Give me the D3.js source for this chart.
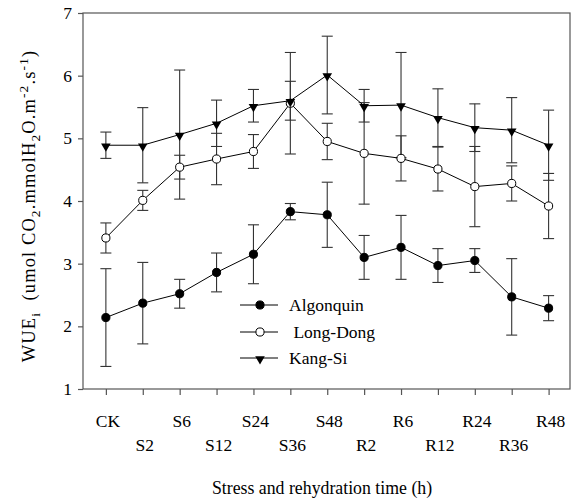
<!DOCTYPE html>
<html lang="en">
<head>
    <meta charset="UTF-8">
    <title>WUEi</title>
    <script src="https://cdn.jsdelivr.net/npm/d3@7/dist/d3.min.js"></script>
    <style>
        body { margin: 0; background: white; }
        svg text { font-family: "Liberation Serif", "Times New Roman", serif; fill: black; }
    </style>
</head>
<body>
<svg id="chart" width="572" height="502"></svg>
<script>
    // data
    var labels = ["CK", "S2", "S6", "S12", "S24", "S36", "S48", "R2", "R6", "R12", "R24", "R36", "R48"];
    var yTicks = [1, 2, 3, 4, 5, 6, 7];

    var algonquin    = [2.14, 2.37, 2.52, 2.86, 3.15, 3.83, 3.78, 3.10, 3.26, 2.97, 3.05, 2.47, 2.29];
    var algonquinErr = [0.78, 0.65, 0.23, 0.31, 0.47, 0.13, 0.52, 0.35, 0.51, 0.27, 0.19, 0.61, 0.20];
    var longDong     = [3.41, 4.01, 4.54, 4.67, 4.79, 5.56, 4.95, 4.76, 4.68, 4.51, 4.23, 4.28, 3.92];
    var longDongErr  = [0.24, 0.16, 0.19, 0.41, 0.27, 0.81, 0.29, 0.81, 0.36, 0.35, 0.64, 0.28, 0.52];
    var kangSi       = [4.89, 4.89, 5.06, 5.24, 5.52, 5.60, 6.01, 5.52, 5.53, 5.33, 5.17, 5.13, 4.89];
    var kangSiErr    = [0.21, 0.60, 1.03, 0.37, 0.26, 0.31, 0.62, 0.26, 0.84, 0.46, 0.38, 0.52, 0.56];

    var series = [
        {name: "Algonquin", values: algonquin, err: algonquinErr, symbol: "circle", fill: "black"},
        {name: " Long-Dong", values: longDong, err: longDongErr, symbol: "circle", fill: "white"},
        {name: "Kang-Si", values: kangSi, err: kangSiErr, symbol: "triangle", fill: "black"}
    ];

    var plotLeft = 83, plotRight = 570, plotTop = 13, plotBottom = 389;
    var serif = "'Liberation Serif', 'Times New Roman', serif";
    var fontSize = "17.5px";

    var svg = d3.select("#chart");

    var x = d3.scaleLinear().domain([-0.62, 12.58]).range([plotLeft, plotRight]);
    var y = d3.scaleLinear().domain([1, 7]).range([plotBottom, plotTop]);

    // frame
    svg.append("rect")
        .attr("x", plotLeft).attr("y", plotTop)
        .attr("width", plotRight - plotLeft).attr("height", plotBottom - plotTop)
        .attr("fill", "none").attr("stroke", "#555").attr("stroke-width", 1.2);

    // x axis
    var xAxis = svg.append("g")
        .attr("transform", "translate(0," + plotBottom + ")")
        .call(d3.axisBottom(x).tickValues(d3.range(labels.length))
            .tickSize(6).tickPadding(0)
            .tickFormat(function(i) { return labels[i]; }));
    xAxis.select(".domain").remove();
    xAxis.selectAll(".tick line").attr("stroke", "#555").attr("stroke-width", 1.2);
    xAxis.selectAll(".tick text")
        .attr("dy", null)
        .attr("x", 1.5)
        .attr("y", function(i) { return i % 2 === 0 ? 38 : 62; })
        .style("font-size", fontSize)
        .style("font-family", serif);

    // y axis
    var yAxis = svg.append("g")
        .attr("transform", "translate(" + plotLeft + ",0)")
        .call(d3.axisLeft(y).tickValues(yTicks).tickSize(5).tickPadding(6)
            .tickFormat(d3.format("d")));
    yAxis.select(".domain").remove();
    yAxis.selectAll(".tick line").attr("stroke", "#555").attr("stroke-width", 1.2);
    yAxis.selectAll(".tick text")
        .style("font-size", fontSize)
        .style("font-family", serif);

    // axis titles
    svg.append("text")
        .attr("x", 322).attr("y", 494)
        .attr("text-anchor", "middle")
        .style("font-family", serif)
        .style("font-size", "17.8px")
        .text("Stress and rehydration time (h)");

    var yTitle = svg.append("text")
        .attr("transform", "translate(35,206) rotate(-90)")
        .attr("text-anchor", "middle")
        .style("font-family", serif)
        .style("white-space", "pre")
        .style("letter-spacing", "1.1px")
        .style("font-size", "18.5px");
    var parts = [
        ["WUE", 0], ["i", 1], ["  (umol CO", 0], ["2", 1], [".mmolH", 0], ["2", 1],
        ["O.m", 0], ["-2", -1], [".s", 0], ["-1", -1], [")", 0]
    ];
    var shift = 0;
    parts.forEach(function(p) {
        var target = p[1] === 1 ? 5 : (p[1] === -1 ? -7 : 0);
        yTitle.append("tspan")
            .attr("dy", target - shift)
            .style("font-size", p[1] === 0 ? "18.5px" : "13.5px")
            .text(p[0]);
        shift = target;
    });

    var symTri = d3.symbol().type(d3.symbolTriangle).size(40);
    var symCirc = d3.symbol().type(d3.symbolCircle).size(52);
    var capW = 5.5;

    // error bars
    series.forEach(function(s) {
        var g = svg.append("g").attr("stroke", "#333").attr("stroke-width", 1.1);
        s.values.forEach(function(v, i) {
            var e = s.err[i];
            g.append("line").attr("x1", x(i)).attr("x2", x(i)).attr("y1", y(v + e)).attr("y2", y(v - e));
            g.append("line").attr("x1", x(i) - capW).attr("x2", x(i) + capW).attr("y1", y(v + e)).attr("y2", y(v + e));
            g.append("line").attr("x1", x(i) - capW).attr("x2", x(i) + capW).attr("y1", y(v - e)).attr("y2", y(v - e));
        });
    });

    // lines
    var line = d3.line().x(function(d, i) { return x(i); }).y(function(d) { return y(d); });
    series.forEach(function(s) {
        svg.append("path")
            .attr("d", line(s.values))
            .attr("fill", "none").attr("stroke", "black").attr("stroke-width", 1);
    });

    function drawMarker(g, s, cx, cy) {
        if (s.symbol === "triangle") {
            g.append("path").attr("d", symTri())
                .attr("transform", "translate(" + cx + "," + (cy + 1) + ") rotate(180)")
                .attr("fill", "black");
        } else {
            g.append("path").attr("d", symCirc())
                .attr("transform", "translate(" + cx + "," + cy + ")")
                .attr("fill", s.fill).attr("stroke", "black").attr("stroke-width", 1);
        }
    }

    // markers
    series.forEach(function(s) {
        var g = svg.append("g");
        s.values.forEach(function(v, i) { drawMarker(g, s, x(i), y(v)); });
    });

    // legend
    var legendY = [305, 332, 358];
    series.forEach(function(s, k) {
        var g = svg.append("g");
        g.append("line").attr("x1", 240).attr("x2", 278)
            .attr("y1", legendY[k]).attr("y2", legendY[k])
            .attr("stroke", "black").attr("stroke-width", 1);
        drawMarker(g, s, 260, legendY[k]);
        g.append("text")
            .attr("x", 289).attr("y", legendY[k] + 6)
            .style("white-space", "pre")
            .style("font-family", serif)
            .style("font-size", "17.5px")
            .text(s.name);
    });
</script>
</body>
</html>
